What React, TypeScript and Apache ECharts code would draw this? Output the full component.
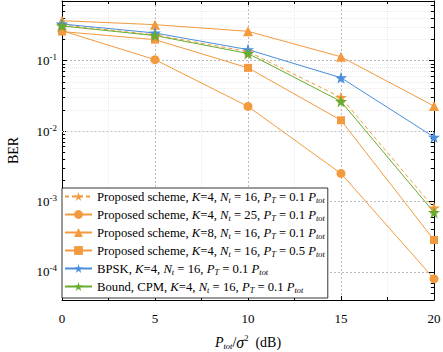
import React, { useEffect, useRef } from "react";
import * as echarts from "echarts";

const xValues = [0, 5, 10, 15, 20];
const seriesNames = [
  "Proposed K4 Nt16 PT0.1",
  "Proposed K4 Nt25 PT0.1",
  "Proposed K8 Nt16 PT0.1",
  "Proposed K4 Nt16 PT0.5",
  "BPSK K4 Nt16 PT0.1",
  "Bound CPM K4 Nt16 PT0.1",
];
const propK4N16 = [0.32, 0.232, 0.134, 0.030, 0.00081];
const propK4N25 = [0.265, 0.103, 0.0223, 0.0025, 0.00008];
const propK8N16 = [0.368, 0.323, 0.26, 0.113, 0.0226];
const propK4N16PT05 = [0.258, 0.198, 0.0788, 0.0142, 0.000284];
const bpsk = [0.33, 0.246, 0.143, 0.057, 0.0082];
const bound = [0.31, 0.226, 0.126, 0.0263, 0.0007];

const legendLabels = [
  "{n|Proposed scheme, }{i|K}{n|=4, }{i|N}{s|t}{n| = 16, }{i|P}{s|T}{n| = 0.1 }{i|P}{s|tot}",
  "{n|Proposed scheme, }{i|K}{n|=4, }{i|N}{s|t}{n| = 25, }{i|P}{s|T}{n| = 0.1 }{i|P}{s|tot}",
  "{n|Proposed scheme, }{i|K}{n|=8, }{i|N}{s|t}{n| = 16, }{i|P}{s|T}{n| = 0.1 }{i|P}{s|tot}",
  "{n|Proposed scheme, }{i|K}{n|=4, }{i|N}{s|t}{n| = 16, }{i|P}{s|T}{n| = 0.5 }{i|P}{s|tot}",
  "{n|BPSK, }{i|K}{n|=4, }{i|N}{s|t}{n| = 16, }{i|P}{s|T}{n| = 0.1 }{i|P}{s|tot}",
  "{n|Bound, CPM, }{i|K}{n|=4, }{i|N}{s|t}{n| = 16, }{i|P}{s|T}{n| = 0.1 }{i|P}{s|tot}",
];

const ORANGE = "#F39A3E";
const BLUE = "#4A8FDB";
const GREEN = "#67AC2C";
const STAR = "path://M50,0 L61.8,35.1 L98.6,35.1 L68.9,56.9 L79.4,91.9 L50,70.1 L20.6,91.9 L31.1,56.9 L1.4,35.1 L38.2,35.1 Z";

const Y_MIN = 4e-5;
const Y_MAX = 0.7;
const FONT = "'Liberation Serif', 'Times New Roman', serif";

export default function App() {
  const ref = useRef<HTMLDivElement>(null);
  useEffect(() => {
    if (!ref.current) return;
    const chart = echarts.init(ref.current, null, { renderer: "svg" });

    const minorVals: number[] = [];
    for (let e = -5; e <= -1; e++) {
      for (let m = 2; m <= 9; m++) {
        const v = m * Math.pow(10, e);
        if (v > Y_MIN && v < Y_MAX) minorVals.push(v);
      }
    }
    const minorGrid = minorVals.map((v) => ({ yAxis: v }));
    const minorTicks: any[] = [];
    minorVals.forEach((v) => {
      minorTicks.push([{ coord: [0, v] }, { coord: [0.17, v] }]);
      minorTicks.push([{ coord: [20, v] }, { coord: [19.83, v] }]);
    });

    const mk = (name: string, data: number[], color: string, symbol: string, size: number, dashed = false) => ({
      name,
      type: "line",
      data: xValues.map((x, i) => [x, data[i]]),
      symbol,
      symbolSize: size,
      showAllSymbol: true,
      lineStyle: { color, width: 1, type: dashed ? [4, 3] : "solid" },
      itemStyle: { color },
      z: 5,
    });

    const subRich = {
      n: { fontSize: 12.7, fontFamily: FONT, color: "#000", lineHeight: 16 },
      i: { fontSize: 12.7, fontFamily: FONT, fontStyle: "italic", color: "#000", lineHeight: 16 },
      s: { fontSize: 8.3, fontFamily: FONT, fontStyle: "italic", color: "#000", padding: [7, 0, 0, 0] },
    };

    chart.setOption({
      animation: false,
      backgroundColor: "#fff",
      textStyle: { fontFamily: FONT, color: "#000" },
      grid: { left: 62, right: 9, top: 1, bottom: 52, containLabel: false, outerBoundsMode: "none" },
      legend: {
        data: seriesNames,
        orient: "vertical",
        left: 62,
        top: 188,
        width: 265,
        padding: [2, 3, 4, 2],
        itemGap: 4,
        itemWidth: 27,
        itemHeight: 11,
        backgroundColor: "#fff",
        borderColor: "#000",
        borderWidth: 0.8,
        borderRadius: 0,
        z: 10,
        formatter: (name: string) => legendLabels[seriesNames.indexOf(name)],
        textStyle: { fontFamily: FONT, fontSize: 12.7, color: "#000", rich: subRich },
      },
      xAxis: [
        {
          type: "value",
          min: 0,
          max: 20,
          interval: 5,
          position: "bottom",
          name: "{i|P}{s|tot}{n|/}{g|σ}{p|2}{n|  (dB)}",
          nameLocation: "middle",
          nameGap: 33,
          nameTextStyle: {
            rich: {
              n: { fontSize: 14, fontFamily: FONT, color: "#000", lineHeight: 18 },
              i: { fontSize: 14, fontFamily: FONT, fontStyle: "italic", color: "#000", lineHeight: 18 },
              g: { fontSize: 16, fontFamily: FONT, fontStyle: "italic", color: "#000", lineHeight: 18 },
              s: { fontSize: 8.5, fontFamily: FONT, fontStyle: "italic", color: "#000", padding: [7, 0, 0, 0] },
              p: { fontSize: 8.5, fontFamily: FONT, color: "#000", padding: [0, 0, 9, 0] },
            },
          },
          axisLine: { show: true, onZero: false, lineStyle: { color: "#000", width: 1 } },
          axisTick: { show: true, inside: true, length: 4, lineStyle: { color: "#000" } },
          minorTick: { show: true, splitNumber: 2, length: 3, lineStyle: { color: "#000" } },
          axisLabel: { fontSize: 13, fontFamily: FONT, color: "#000", margin: 12 },
          splitLine: { show: true, lineStyle: { color: "#aaa", width: 0.8, type: [2, 2] } },
          minorSplitLine: { show: true, lineStyle: { color: "#e3e3e3", width: 0.7, type: [1, 1] } },
        },
        {
          type: "value",
          min: 0,
          max: 20,
          interval: 5,
          position: "top",
          axisLine: { show: true, onZero: false, lineStyle: { color: "#000", width: 1 } },
          axisTick: { show: true, inside: true, length: 4, lineStyle: { color: "#000" } },
          minorTick: { show: true, splitNumber: 2, length: 3, lineStyle: { color: "#000" } },
          axisLabel: { show: false },
          splitLine: { show: false },
        },
      ],
      yAxis: [
        {
          type: "log",
          logBase: 10,
          min: Y_MIN,
          max: Y_MAX,
          position: "left",
          name: "BER",
          nameLocation: "middle",
          nameGap: 42,
          nameRotate: 90,
          nameTextStyle: { fontSize: 14, fontFamily: FONT, color: "#000" },
          axisLine: { show: true, onZero: false, lineStyle: { color: "#000", width: 1 } },
          axisTick: { show: true, inside: true, length: 5, lineStyle: { color: "#000" } },
          axisLabel: {
            margin: 5,
            formatter: (v: number) => {
              const l = Math.log10(v);
              const e = Math.round(l);
              if (Math.abs(l - e) > 1e-6) return "";
              return `{b|10}{sup|${e}}`;
            },
            rich: {
              b: { fontSize: 13, fontFamily: FONT, color: "#000" },
              sup: { fontSize: 9, fontFamily: FONT, color: "#000", padding: [0, 0, 7, 0] },
            },
          },
          splitLine: { show: true, lineStyle: { color: "#aaa", width: 0.8, type: [2, 2] } },
        },
        {
          type: "log",
          logBase: 10,
          min: Y_MIN,
          max: Y_MAX,
          position: "right",
          axisLine: { show: true, onZero: false, lineStyle: { color: "#000", width: 1 } },
          axisTick: { show: true, inside: true, length: 5, lineStyle: { color: "#000" } },
          axisLabel: { show: false },
          splitLine: { show: false },
        },
      ],
      series: [
        {
          name: "grid",
          type: "line",
          data: [],
          silent: true,
          z: 1,
          markLine: {
            silent: true,
            symbol: ["none", "none"],
            animation: false,
            label: { show: false },
            lineStyle: { color: "#e3e3e3", width: 0.7, type: [1, 1] },
            data: minorGrid,
          },
        },
        {
          name: "ticks",
          type: "line",
          data: [],
          silent: true,
          z: 3,
          markLine: {
            silent: true,
            symbol: ["none", "none"],
            animation: false,
            label: { show: false },
            lineStyle: { color: "#000", width: 1, type: "solid" },
            data: minorTicks,
          },
        },
        mk(seriesNames[0], propK4N16, ORANGE, STAR, 12, true),
        mk(seriesNames[1], propK4N25, ORANGE, "circle", 9),
        mk(seriesNames[2], propK8N16, ORANGE, "triangle", 10),
        mk(seriesNames[3], propK4N16PT05, ORANGE, "rect", 8),
        mk(seriesNames[4], bpsk, BLUE, STAR, 12),
        mk(seriesNames[5], bound, GREEN, STAR, 12),
      ],
    });
    return () => chart.dispose();
  }, []);
  return (
    <div
      ref={ref}
      style={{ position: "fixed", left: 0, top: 0, width: 443, height: 352 }}
    />
  );
}
